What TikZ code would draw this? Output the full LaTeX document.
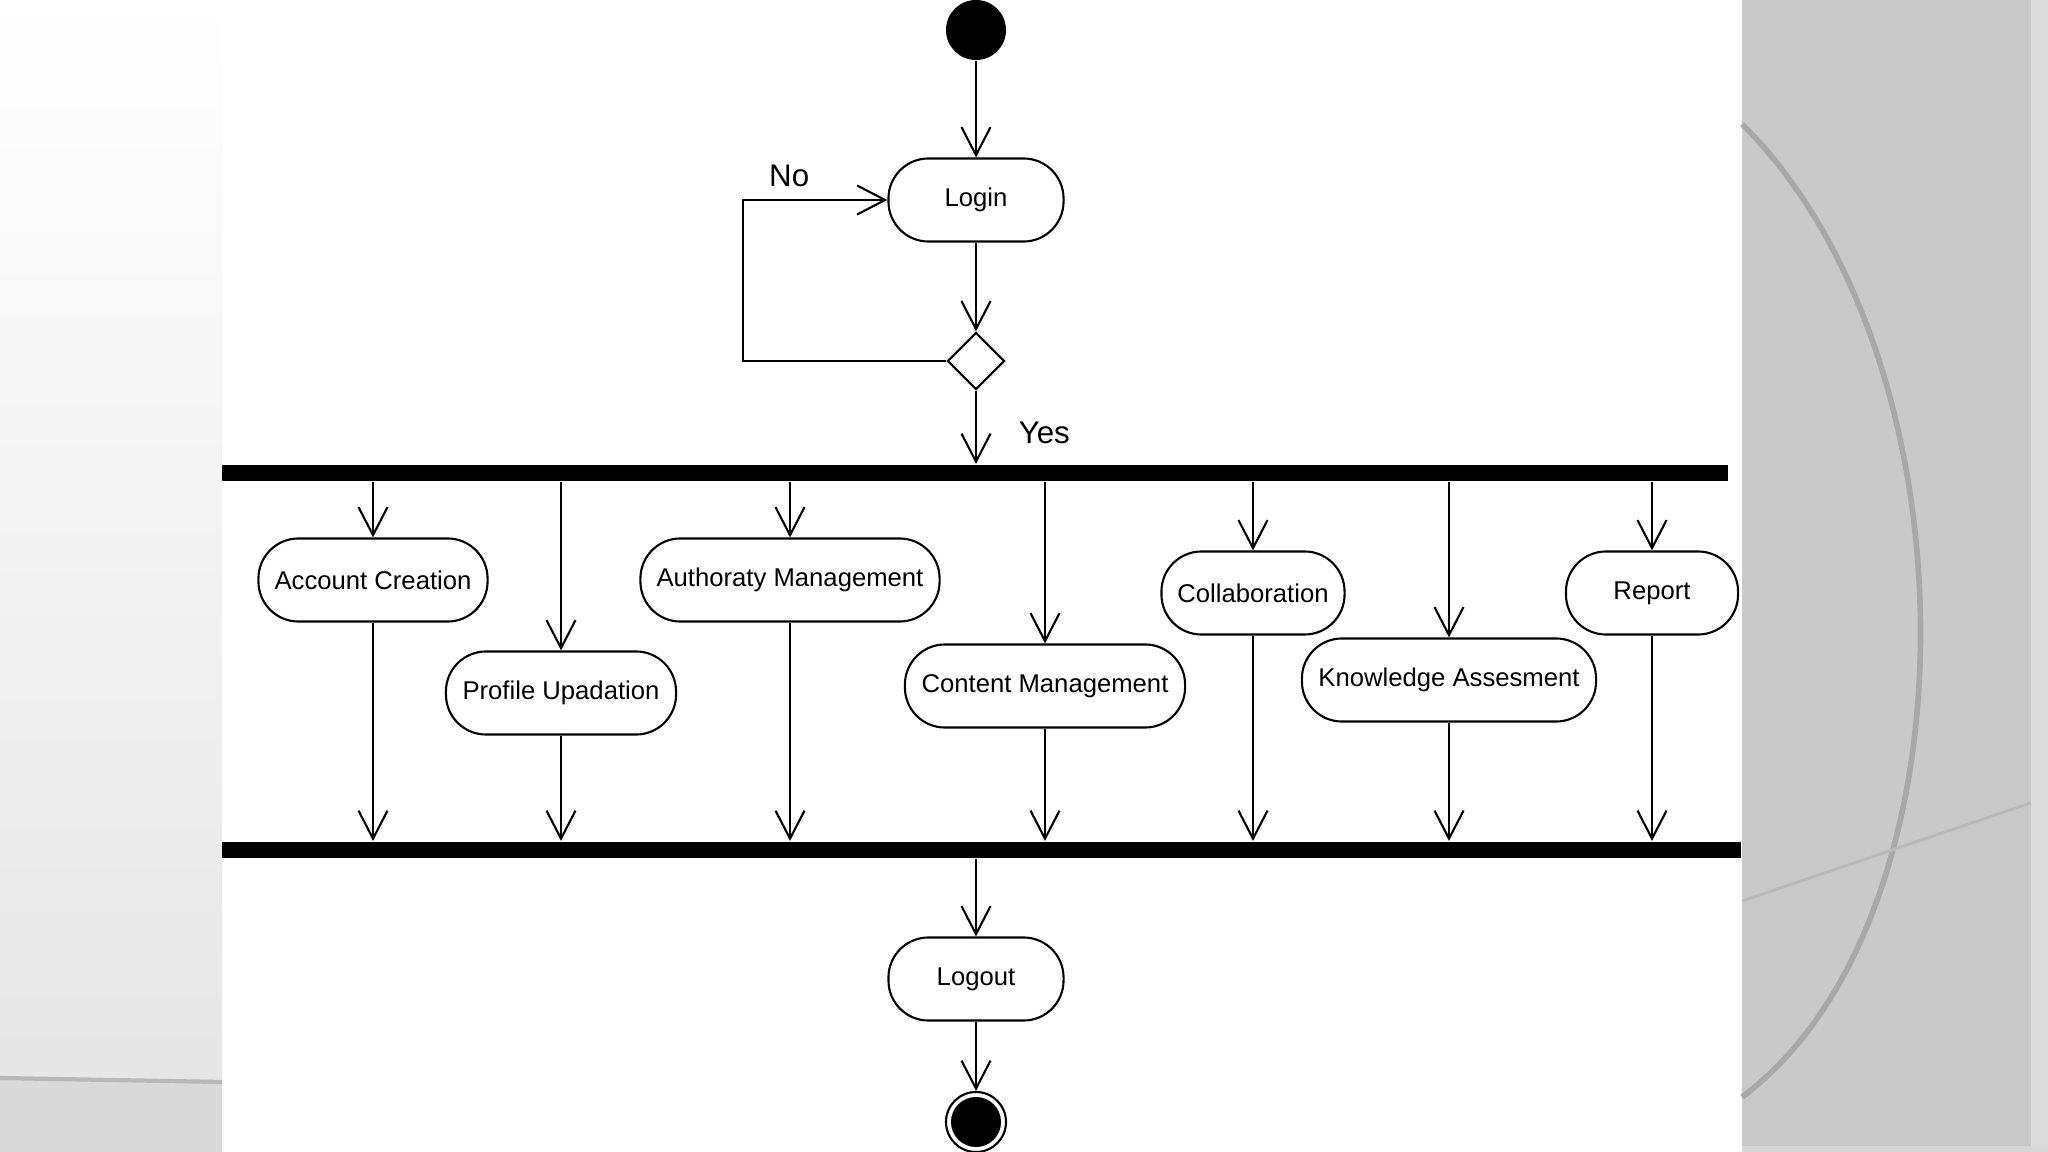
\documentclass[tikz,border=0pt]{standalone}
\usepackage{fontspec}
\setmainfont{Liberation Sans}
\usetikzlibrary{arrows.meta, positioning, shapes.geometric}
\tikzset{
    activitydiagram/.style={>={Straight Barb[length=2.8mm, width=2.9mm]}, line width=0.6pt, font=\fontsize{7.3}{9}\selectfont, x=0.01cm, y=-0.01cm},
    activity/.style={draw, rectangle, rounded corners=0.4cm, minimum height=0.83cm, inner sep=2pt, fill=white},
    decision/.style={draw, diamond, minimum size=0.57cm, inner sep=0pt, fill=white},
    startdot/.style={circle, fill, minimum size=0.6cm, inner sep=0pt},
    enddot/.style={circle, draw, fill=white, minimum size=0.6cm, inner sep=0pt,
        path picture={\fill[black] (path picture bounding box.center) circle (0.25cm);}},
    syncbar/.style={fill, rectangle, minimum height=0.16cm, inner sep=0pt},
    guard/.style={font=\fontsize{8.9}{11}\selectfont},
}

\begin{document}
\begin{tikzpicture}[activitydiagram]
        \useasboundingbox (0,0) rectangle (2048,1152);

        % slide background
        \shade[top color=white, bottom color=black!10] (0,0) rectangle (222,1080);
        \fill[black!15] (0,1080) rectangle (222,1152);
        \draw[black!28, line width=1.2pt] (0,1078) -- (222,1082);
        \fill[white] (222,0) rectangle (1742,1152);
        \fill[black!21] (1742,0) rectangle (2048,1152);
        \draw[black!34, line width=1.6pt] (1742,124) .. controls (1980,360) and (1980,920) .. (1742,1097);
        \draw[black!27, line width=0.8pt] (1742,901) -- (2048,797);
        \fill[black!14] (2031,0) rectangle (2048,1152);
        \fill[black!16] (1742,1146) rectangle (2048,1152);

        \node[startdot]                          (start)  at (976,30)    {};
        \node[activity, minimum width=1.75cm]    (login)  at (976,200)   {Login};
        \node[decision]                          (dec)    at (976,361)   {};
        \coordinate                              (back)   at (743,361);
        \node[syncbar, minimum width=15.06cm]    (fork)   at (975,473)   {};
        \node[syncbar, minimum width=15.19cm]    (join)   at (981.5,850) {};

        \node[activity, minimum width=2.29cm]    (acc)    at (373,580)   {Account Creation};
        \node[activity, minimum width=2.30cm]    (prof)   at (561,693)   {Profile Upadation};
        \node[activity, minimum width=2.99cm]    (auth)   at (790,580)   {Authoraty Management};
        \node[activity, minimum width=2.80cm]    (cont)   at (1045,686)  {Content Management};
        \node[activity, minimum width=1.83cm]    (coll)   at (1253,593)  {Collaboration};
        \node[activity, minimum width=2.94cm]    (know)   at (1449,680)  {Knowledge Assesment};
        \node[activity, minimum width=1.72cm]    (rep)    at (1652,593)  {Report};

        \node[activity, minimum width=1.75cm]    (logout) at (976,979)   {Logout};
        \node[enddot]                            (stop)   at (976,1122)  {};

        \draw[->] (start) -- (login);
        \draw[->] (login) -- (dec);
        \draw[->] (dec) -- node[guard, pos=0.57, right=0.3cm] {Yes} (dec |- fork.north);

        % retry loop
        \draw[->] (dec.west) -- (back) |- node[guard, pos=0.66, above] {No} (login.west);

        % parallel activities
        \foreach \act in {acc, prof, auth, cont, coll, know, rep} {
            \draw[->] (fork.south -| \act) -- (\act);
            \draw[->] (\act) -- (\act |- join.north);
        }

        \draw[->] (join.south -| logout) -- (logout);
        \draw[->] (logout) -- (stop);
    \end{tikzpicture}
\end{document}
